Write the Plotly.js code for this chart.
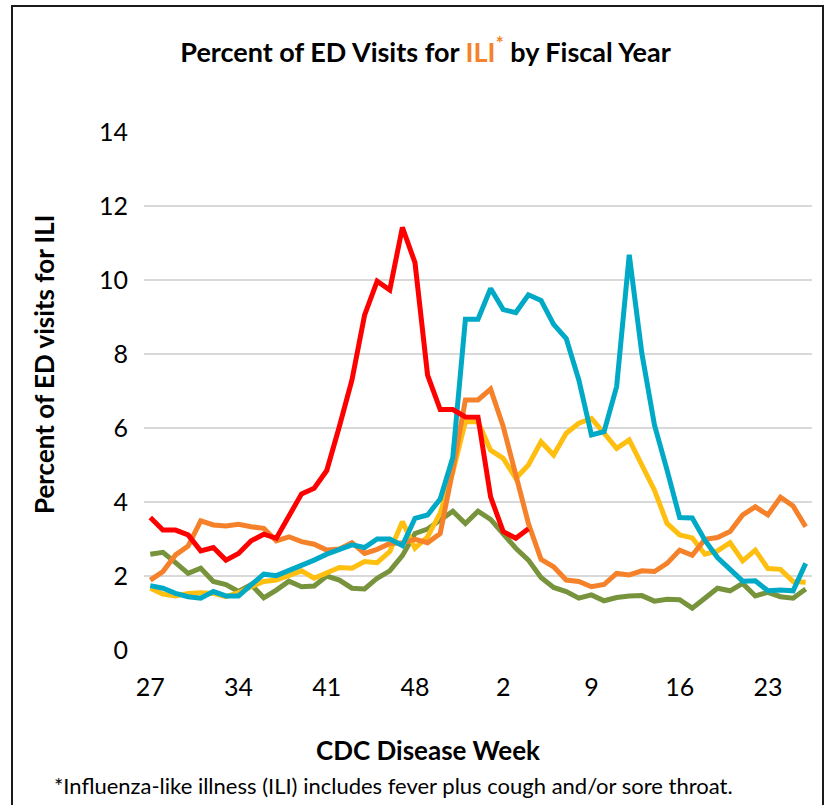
<!DOCTYPE html>
<html>
<head>
<meta charset="utf-8">
<script src="https://cdn.plot.ly/plotly-3.0.1.min.js"></script>
<style>
  html, body { margin: 0; padding: 0; background: #fff; }
  #wrap { position: relative; width: 828px; height: 805px; overflow: hidden; }
  #chart { position: absolute; left: 0; top: 0; width: 828px; height: 805px; }
  #frame { position: absolute; left: 11px; top: 5px; width: 813px; height: 830px; border: 2px solid #1a1a1a; pointer-events: none; box-sizing: border-box; }
</style>
</head>
<body>
<div id="wrap">
  <div id="chart"></div>
  <div id="frame"></div>
</div>
<script>
// CDC disease weeks, fiscal year order (week 27 .. 53, then 1 .. 26)
const weeks = [27,28,29,30,31,32,33,34,35,36,37,38,39,40,41,42,43,44,45,46,47,48,49,50,51,52,53,
               1,2,3,4,5,6,7,8,9,10,11,12,13,14,15,16,17,18,19,20,21,22,23,24,25,26];
const tickWeeks = [27,34,41,48,2,9,16,23];

// Percent of ED visits for ILI, one array per fiscal year
const seriesRed = [3.58,3.24,3.24,3.11,2.68,2.77,2.43,2.61,2.95,3.13,3.02,3.6,4.22,4.37,4.85,6.04,7.3,9.05,9.97,9.73,11.42,10.47,7.43,6.5,6.5,6.3,6.29,4.14,3.2,3.02,3.28];
const seriesCyan = [1.74,1.67,1.53,1.44,1.4,1.58,1.46,1.46,1.76,2.05,2.01,2.14,2.3,
                    2.43,2.59,2.7,2.84,2.77,3.0,3.0,2.82,
                    3.56,3.65,4.08,5.2,8.94,8.94,9.77,9.2,9.12,9.6,9.45,8.8,8.42,
                    7.3,5.81,5.9,7.12,10.68,8.02,6.08,4.86,3.58,3.57,
                    2.97,2.5,2.18,1.86,1.87,1.6,1.62,1.6,2.34];
const seriesOrange = [1.89,2.12,2.57,2.81,3.49,3.38,3.35,3.4,3.33,3.29,2.95,3.06,
                      2.93,2.86,2.7,2.73,2.9,2.61,2.72,2.88,2.9,
                      2.99,2.9,3.15,4.86,6.76,6.76,7.05,6.04,4.68,3.42,2.45,2.25,1.89,
                      1.85,1.71,1.77,2.07,2.03,2.14,2.12,2.34,2.7,2.56,
                      2.99,3.04,3.2,3.65,3.87,3.65,4.13,3.89,3.33];
const seriesYellow = [1.67,1.51,1.46,1.53,1.55,1.53,1.44,1.55,1.71,1.85,1.89,2.0,
                      2.14,1.94,2.07,2.23,2.21,2.39,2.36,2.66,3.47,
                      2.75,3.06,3.7,4.8,6.17,6.17,5.4,5.18,4.64,5.0,5.63,5.27,5.86,
                      6.13,6.26,5.86,5.45,5.68,5.0,4.32,3.42,3.11,3.03,
                      2.59,2.68,2.9,2.41,2.7,2.2,2.18,1.85,1.83];
const seriesOlive = [2.59,2.64,2.36,2.07,2.21,1.85,1.77,1.58,1.77,1.41,1.62,1.86,
                     1.71,1.73,2.0,1.89,1.67,1.65,1.94,2.14,2.55,
                     3.15,3.27,3.5,3.75,3.42,3.75,3.53,3.15,2.75,2.43,1.96,1.69,1.58,
                     1.4,1.49,1.33,1.42,1.46,1.47,1.32,1.37,1.36,1.13,
                     1.4,1.67,1.6,1.8,1.46,1.56,1.44,1.4,1.65];
const yTicks = [0,2,4,6,8,10,12,14];

const idx = weeks.map((w, i) => i);
const tickIdx = tickWeeks.map(t => weeks.indexOf(t));

function line(vals, color) {
  return {
    x: idx.slice(0, vals.length),
    y: vals,
    type: 'scatter',
    mode: 'lines',
    line: { color: color, width: 5 },
    hoverinfo: 'skip',
    showlegend: false
  };
}

const data = [
  line(seriesOlive, '#77933C'),
  line(seriesYellow, '#FFBF10'),
  line(seriesOrange, '#F5822A'),
  line(seriesCyan, '#00AAC6'),
  line(seriesRed, '#FF0000')
];

const FONT = 'Lato, "Open Sans", "Noto Sans", sans-serif';

const layout = {
  width: 828,
  height: 805,
  margin: { l: 144, r: 16, t: 132, b: 155 },
  paper_bgcolor: '#ffffff',
  plot_bgcolor: '#ffffff',
  font: { family: FONT, color: '#000' },
  title: {
    text: '<b>Percent of ED Visits for <span style="color:#F5822A">ILI<sup>*</sup></span> by Fiscal Year</b>',
    font: { family: FONT, size: 27, color: '#000' },
    xref: 'container', yref: 'container',
    x: 0.514, xanchor: 'center',
    y: 0.935, yanchor: 'middle'
  },
  xaxis: {
    range: [-0.5, 52.5],
    tickmode: 'array',
    tickvals: tickIdx,
    ticktext: tickWeeks.map(String),
    ticks: '',
    showgrid: false,
    zeroline: false,
    showline: false,
    tickfont: { family: FONT, size: 25, color: '#000' },
    ticklabelstandoff: 20
  },
  yaxis: {
    range: [0, 14],
    tickmode: 'array',
    tickvals: yTicks,
    ticktext: yTicks.map(String),
    ticks: '',
    showgrid: true,
    gridcolor: '#D9D9D9',
    gridwidth: 1.6,
    zeroline: false,
    showline: false,
    tickfont: { family: FONT, size: 25, color: '#000' },
    ticklabelstandoff: 15
  },
  annotations: [
    {
      text: '<b>Percent of ED visits for ILI</b>',
      xref: 'paper', yref: 'paper',
      x: -0.1497, y: 0.552,
      xanchor: 'center', yanchor: 'middle',
      textangle: -90,
      showarrow: false,
      font: { family: FONT, size: 26, color: '#000' }
    },
    {
      text: '<b>CDC Disease Week</b>',
      xref: 'paper', yref: 'paper',
      x: 0.425, y: -0.193,
      xanchor: 'center', yanchor: 'middle',
      showarrow: false,
      font: { family: FONT, size: 26, color: '#000' }
    },
    {
      text: '*Influenza-like illness (ILI) includes fever plus cough and/or sore throat.',
      xref: 'paper', yref: 'paper',
      x: -0.1377, y: -0.2625,
      xanchor: 'left', yanchor: 'middle',
      showarrow: false,
      font: { family: FONT, size: 22, color: '#000' }
    }
  ]
};

Plotly.newPlot('chart', data, layout, { displayModeBar: false, staticPlot: true });
</script>
</body>
</html>
